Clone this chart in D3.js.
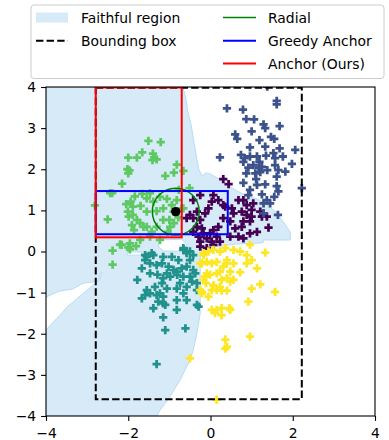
<!DOCTYPE html>
<html><head><meta charset="utf-8">
<script src="https://cdn.jsdelivr.net/npm/d3@7"></script>
<style>body{margin:0;background:#fff}svg{display:block;font-family:"DejaVu Sans",sans-serif}</style>
</head><body><svg id="c" width="389" height="440"></svg>
<script>
const xTicks=[-4,-2,0,2,4];
const yTicks=[-4,-3,-2,-1,0,1,2,3,4];
const classColors=["#440154","#3b528b","#21918c","#5ec962","#fde725"];
const purplePts=[[0.31,1.76],[0.44,1.64],[0.07,1.37],[-0.25,1.37],[-0.42,1.25],[0.03,1.21],[0.19,1.25],[0.31,1.13],[-0.05,1.05],[-0.13,0.93],[-0.33,0.97],[-0.5,0.89],[-0.42,0.81],[-0.25,0.77],[-0.21,0.56],[-0.33,0.6],[-0.17,0.44],[-0.29,0.36],[-0.42,0.48],[-0.09,0.32],[-0.25,0.24],[0.03,0.24],[0.15,0.36],[0.19,0.6],[0.07,0.52],[-0.01,0.44],[0.31,0.81],[0.36,1.09],[0.52,1.05],[0.56,0.93],[0.68,1.25],[0.76,0.97],[0.88,0.89],[1.0,0.85],[0.96,0.73],[0.8,0.73],[0.76,0.6],[0.6,0.56],[0.48,0.36],[0.68,0.36],[0.8,0.32],[0.96,0.44],[1.13,0.48],[1.25,0.85],[1.37,0.85],[1.41,0.58],[1.21,0.97],[1.04,1.17],[1.0,1.01],[0.88,1.13],[0.48,0.73],[0.23,0.24],[0.07,0.16],[-0.09,0.08],[-0.25,0.12],[-0.58,0.81],[0.8,1.25]];
const bluePts=[[1.61,3.66],[1.61,3.58],[0.4,3.48],[0.79,3.45],[0.87,3.22],[1.06,3.21],[1.29,3.09],[1.33,3.0],[1.68,3.05],[1.0,2.92],[0.6,2.85],[0.65,2.74],[1.19,2.71],[1.47,2.79],[1.55,2.74],[0.96,2.53],[1.33,2.55],[1.68,2.51],[2.06,2.47],[0.23,2.29],[0.74,2.35],[0.83,2.27],[0.8,2.18],[0.96,2.31],[1.13,2.31],[1.35,2.33],[1.53,2.39],[1.57,2.27],[1.76,2.31],[1.98,2.13],[1.19,2.18],[1.04,2.1],[1.17,2.04],[1.25,2.06],[0.92,2.04],[0.87,1.9],[1.09,1.9],[1.21,1.93],[1.38,1.98],[1.57,2.1],[1.65,1.98],[1.82,1.94],[1.61,1.82],[1.11,1.76],[0.8,1.67],[1.33,1.63],[1.13,1.62],[1.61,1.59],[0.96,1.5],[0.92,1.37],[1.25,1.39],[1.65,1.46],[1.37,1.25],[1.45,1.17],[1.29,1.17],[1.55,1.33],[1.29,0.93],[1.64,0.89],[2.22,1.54],[1.38,4.01]];
const tealPts=[[-1.55,-0.13],[-1.39,-0.09],[-1.59,-0.21],[-1.47,-0.29],[-1.15,-0.13],[-0.94,-0.13],[-1.67,-0.41],[-1.31,-0.33],[-1.18,-0.29],[-1.02,-0.37],[-1.06,-0.53],[-0.9,-0.45],[-0.82,-0.49],[-0.7,-0.41],[-0.58,-0.37],[-0.42,-0.45],[-0.5,-0.21],[-0.58,-0.04],[-0.66,0.04],[-0.78,-0.21],[-1.47,-0.53],[-1.29,-0.56],[-1.15,-0.65],[-0.98,-0.61],[-0.81,-0.57],[-0.66,-0.61],[-0.5,-0.61],[-0.37,-0.53],[-1.78,-0.69],[-1.55,-0.94],[-1.47,-1.02],[-1.59,-1.06],[-1.67,-1.14],[-1.35,-0.86],[-1.18,-0.77],[-1.23,-1.02],[-1.15,-1.1],[-1.06,-0.9],[-1.31,-1.06],[-1.27,-1.22],[-1.15,-1.26],[-1.1,-1.3],[-1.39,-1.38],[-0.82,-0.9],[-0.74,-0.77],[-0.66,-1.02],[-0.58,-0.86],[-0.33,-0.77],[-0.45,-0.73],[-0.82,-1.18],[-0.58,-1.18],[-0.33,-1.3],[-0.82,-1.42],[-1.15,-1.6],[-1.1,-1.91],[-0.61,-1.87],[-1.31,-2.74],[-1.59,-0.09],[-1.43,-0.04],[-0.5,0.0],[-0.42,-0.09],[-0.66,0.08],[-0.58,0.0],[-0.29,-1.34],[-0.33,-0.94]];
const greenPts=[[-1.51,2.69],[-1.21,2.66],[-1.66,2.41],[-2.0,2.28],[-1.79,2.28],[-1.4,2.38],[-1.37,2.29],[-1.31,2.24],[-1.41,2.22],[-2.02,2.0],[-1.97,1.97],[-2.0,1.9],[-0.82,2.11],[-0.89,1.92],[-1.1,1.84],[-2.15,1.65],[-2.44,1.42],[-2.39,1.42],[-2.81,1.12],[-2.5,0.78],[-2.05,1.15],[-1.94,1.21],[-1.84,1.34],[-1.66,1.4],[-1.47,1.42],[-1.55,1.29],[-1.39,1.21],[-1.23,1.33],[-1.06,1.28],[-0.94,1.13],[-1.15,1.05],[-1.31,0.98],[-1.55,0.97],[-1.7,1.11],[-1.89,1.09],[-2.01,0.97],[-1.99,0.85],[-1.89,0.89],[-1.79,0.77],[-1.71,0.69],[-1.63,0.6],[-1.91,0.64],[-1.86,0.52],[-1.55,0.6],[-1.43,0.48],[-1.31,0.6],[-1.15,0.77],[-0.98,0.6],[-0.78,0.83],[-0.7,1.05],[-0.77,1.5],[-0.82,1.25],[-0.9,0.97],[-1.0,0.77],[-0.89,0.69],[-1.04,0.48],[-2.38,0.02],[-2.16,0.16],[-1.96,0.2],[-1.71,0.28],[-1.47,0.36],[-1.23,0.28],[-2.38,-0.32],[-2.2,0.17],[-2.0,0.1],[-1.96,0.05],[-1.81,0.13],[-0.66,1.96],[-0.66,1.05],[-0.51,1.54]];
const yellowPts=[[-0.17,-0.04],[-0.05,0.0],[0.07,0.04],[0.23,0.0],[0.36,0.08],[0.56,0.04],[0.72,0.0],[0.88,-0.09],[0.96,0.16],[1.33,-0.03],[-0.25,-0.29],[-0.09,-0.25],[0.03,-0.29],[0.15,-0.25],[0.4,-0.21],[0.56,-0.29],[0.4,-0.29],[0.88,-0.29],[1.0,-0.21],[1.13,-0.41],[0.72,-0.51],[-0.09,-0.53],[-0.01,-0.56],[0.15,-0.53],[0.23,-0.49],[0.31,-0.37],[0.48,-0.49],[0.27,-0.69],[0.4,-0.65],[0.48,-0.73],[0.56,-0.69],[-0.17,-0.69],[-0.11,-0.77],[0.07,-0.82],[0.23,-0.86],[0.03,-0.94],[0.15,-0.94],[0.27,-0.95],[0.4,-0.95],[-0.25,-0.94],[-0.21,-1.02],[-0.05,-1.1],[1.21,-0.8],[1.0,-0.9],[1.57,-0.98],[0.92,-1.22],[0.03,-1.42],[0.15,-1.42],[0.27,-1.38],[0.11,-1.5],[0.27,-1.55],[0.46,-1.38],[0.48,-1.42],[0.36,-2.14],[0.4,-2.32],[0.36,-2.36],[0.96,-2.07],[0.15,-3.6],[-0.5,-2.6],[-0.17,-0.09],[-0.21,-0.29],[-0.13,-0.61],[-0.21,-0.98]];
const faithfulRegion=[[-4,4],[-0.67,4],[-0.59,3.68],[-0.55,3.39],[-0.47,3.08],[-0.42,2.76],[-0.37,2.47],[-0.33,2.23],[-0.28,1.98],[-0.2,1.84],[-0.11,1.91],[-0.01,1.89],[0.16,1.79],[0.4,1.62],[0.65,1.47],[0.89,1.35],[1.13,1.28],[1.38,1.13],[1.62,0.94],[1.77,0.72],[1.94,0.47],[1.94,0.28],[1.28,0.28],[1.28,0.21],[0.6,0.18],[0.11,0.11],[-0.13,0.04],[-0.25,-0.04],[-0.25,-1.5],[-0.33,-1.98],[-0.42,-2.4],[-0.52,-2.69],[-0.62,-2.88],[-0.74,-3.13],[-0.86,-3.32],[-0.98,-3.52],[-1.1,-3.69],[-1.23,-3.86],[-1.3,-4],[-4,-4],[-4,-1.91],[-3.83,-1.72],[-3.66,-1.55],[-3.49,-1.35],[-3.34,-1.23],[-3.17,-1.08],[-3.0,-0.94],[-2.86,-0.82],[-2.69,-0.69],[-2.64,-0.5],[-2.68,-0.52],[-2.72,-0.7],[-2.86,-0.74],[-3.1,-0.77],[-3.34,-0.91],[-3.66,-0.96],[-3.83,-1.03],[-4,-1.11]];
const regionHoles=[[[-1.23,0.28],[-0.69,0.3],[-0.57,0.16],[-0.79,0.01],[-1.15,0.01],[-1.27,0.13]],[[-2.02,-0.01],[-1.68,-0.01],[-1.68,-0.09],[-2.02,-0.09]]];
const boundingBox={x0:-2.79,x1:2.22,y0:-3.59,y1:3.98};
const anchorBox={x0:-2.79,x1:-0.7,y0:0.345,y1:3.99};
const greedyBox={x0:-2.79,x1:0.42,y0:0.42,y1:1.47};
const radial={cx:-0.845,cy:0.97,r:0.57};
const legendLeft=["Faithful region","Bounding box"];
const legendRight=["Radial","Greedy Anchor","Anchor (Ours)"];

const svg=d3.select("#c");
const L=46,R=375,T=87,B=416;
const x=d3.scaleLinear().domain([-4,4]).range([L,R]);
const y=d3.scaleLinear().domain([-4,4]).range([B,T]);
const fmt=d=>d<0?"\u2212"+Math.abs(d):String(d);

svg.append("clipPath").attr("id","clip").append("rect").attr("x",L).attr("y",T).attr("width",R-L).attr("height",B-T);
const g=svg.append("g").attr("clip-path","url(#clip)");

const line=d3.line().x(d=>x(d[0])).y(d=>y(d[1]));
const regionPath=line(faithfulRegion)+"Z"+regionHoles.map(h=>line(h)+"Z").join("");
g.append("path").attr("d",regionPath).attr("fill-rule","evenodd").attr("fill","#d6eaf8").attr("stroke","#b9dcf5").attr("stroke-width",1);

const sym=d3.symbol().type(d3.symbolCross).size(38);
[purplePts,bluePts,tealPts,greenPts,yellowPts].forEach((pts,i)=>{
  g.selectAll(null).data(pts).join("path").attr("d",sym)
   .attr("transform",d=>`translate(${x(d[0])},${y(d[1])})`).attr("fill",classColors[i]);
});

function box(b,color,dash,w){
  g.append("rect").attr("x",x(b.x0)).attr("y",y(b.y1)).attr("width",x(b.x1)-x(b.x0)).attr("height",y(b.y0)-y(b.y1))
   .attr("fill","none").attr("stroke",color).attr("stroke-width",w).attr("stroke-dasharray",dash);
}
box(boundingBox,"#000","7.4,3.2",2);
g.append("circle").attr("cx",x(radial.cx)).attr("cy",y(radial.cy)).attr("r",x(radial.r)-x(0)).attr("fill","none").attr("stroke","#008000").attr("stroke-width",1.5);
box(greedyBox,"#0000ff",null,2);
box(anchorBox,"#ff0000",null,2);
g.append("circle").attr("cx",x(radial.cx)).attr("cy",y(radial.cy)).attr("r",4.7).attr("fill","#000");

// axes
const xa=svg.append("g").attr("transform",`translate(0,${B})`).call(d3.axisBottom(x).tickValues(xTicks).tickSize(4.9).tickFormat(fmt));
xa.selectAll("text").attr("y",22).attr("dy",0);
const ya=svg.append("g").attr("transform",`translate(${L},0)`).call(d3.axisLeft(y).tickValues(yTicks).tickSize(4.9).tickPadding(4.9).tickFormat(fmt));
[xa,ya].forEach(a=>{a.select(".domain").remove();a.selectAll("text").attr("font-size",13.9).attr("font-family","DejaVu Sans").attr("fill","#000");a.selectAll("line").attr("stroke","#000").attr("stroke-width",1.1);});
svg.append("rect").attr("x",L).attr("y",T).attr("width",R-L).attr("height",B-T).attr("fill","none").attr("stroke","#000").attr("stroke-width",1.1);

// legend
const lg=svg.append("g");
lg.append("rect").attr("x",31).attr("y",5).attr("width",353).attr("height",73.5).attr("rx",3).attr("fill","#fff").attr("fill-opacity",0.8).attr("stroke","#cccccc");
const rows=[17.5,40.8,63.5];
lg.append("rect").attr("x",36).attr("y",rows[0]-5).attr("width",32).attr("height",10).attr("fill","#d6eaf8");
lg.append("line").attr("x1",36).attr("x2",68).attr("y1",rows[1]).attr("y2",rows[1]).attr("stroke","#000").attr("stroke-width",2).attr("stroke-dasharray","7.4,3.2");
legendLeft.forEach((t,i)=>lg.append("text").attr("x",81).attr("y",rows[i]+5).attr("font-size",13.9).text(t));
const rc=["#008000","#0000ff","#ff0000"];
legendRight.forEach((t,i)=>{
  lg.append("line").attr("x1",223).attr("x2",256).attr("y1",rows[i]).attr("y2",rows[i]).attr("stroke",rc[i]).attr("stroke-width",i==0?1.5:2);
  lg.append("text").attr("x",268).attr("y",rows[i]+5).attr("font-size",13.9).text(t);
});
</script></body></html>
